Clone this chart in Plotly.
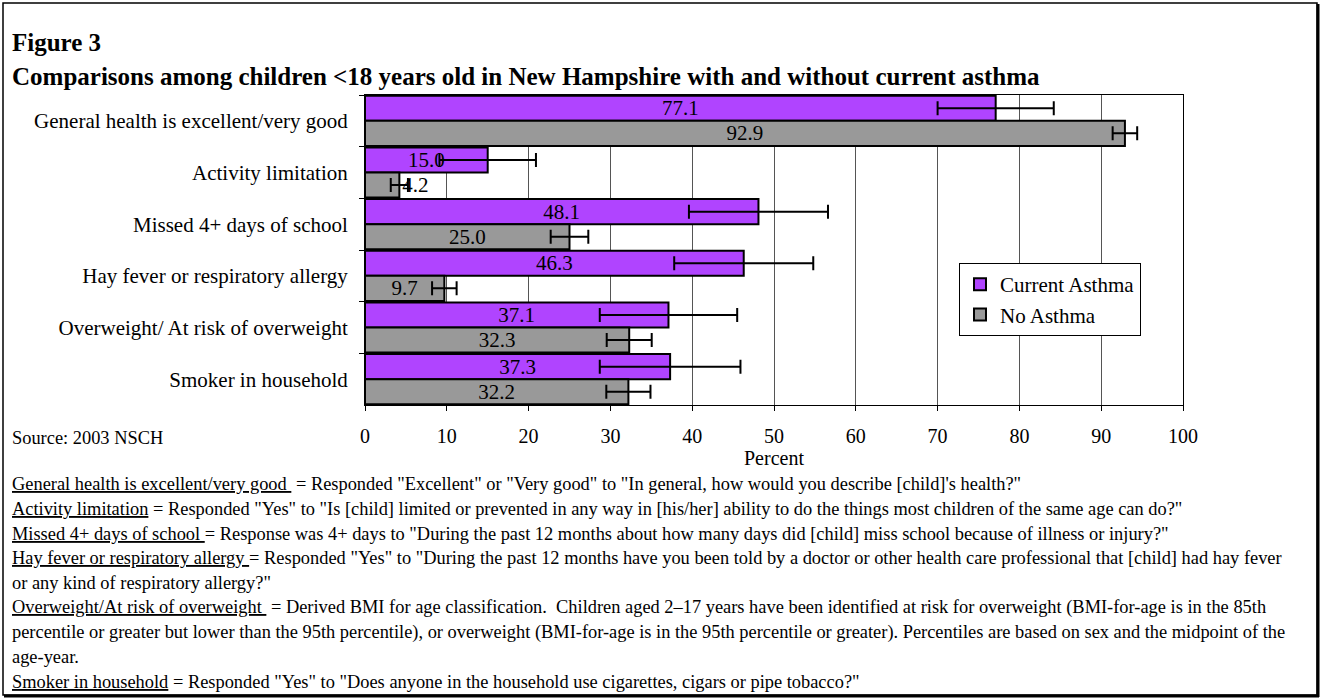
import plotly.graph_objects as go

# Survey indicators (top to bottom)
categories = [
    "General health is excellent/very good",
    "Activity limitation",
    "Missed 4+ days of school",
    "Hay fever or respiratory allergy",
    "Overweight/ At risk of overweight",
    "Smoker in household",
]
current_asthma = [77.1, 15.0, 48.1, 46.3, 37.1, 37.3]
current_asthma_err = [7.1, 5.9, 8.5, 8.5, 8.4, 8.6]
no_asthma = [92.9, 4.2, 25.0, 9.7, 32.3, 32.2]
no_asthma_err = [1.5, 1.05, 2.3, 1.5, 2.75, 2.7]
x_ticks = [0, 10, 20, 30, 40, 50, 60, 70, 80, 90, 100]

W, H = 1325, 700
L, R, T, B = 365, 1183, 95, 405
FONT = "Liberation Serif"
PURPLE = "#B044FF"
GRAY = "#999999"


def fx(px):
    return (px - L) / (R - L)


def fy(py):
    return (B - py) / (B - T)


def label_pos(values, small=5):
    return ["outside" if v < small else "inside" for v in values]


def bar_trace(name, values, errors, color):
    return go.Bar(
        name=name, y=categories, x=values, orientation="h",
        marker=dict(color=color, line=dict(color="black", width=2)),
        error_x=dict(type="data", array=errors, color="black", thickness=2, width=7),
        texttemplate="%{x:.1f}", textposition=label_pos(values),
        insidetextanchor="middle", constraintext="none",
        textfont=dict(family=FONT, size=21, color="black"),
        cliponaxis=False,
    )


fig = go.Figure()
fig.add_trace(bar_trace("Current Asthma", current_asthma, current_asthma_err, PURPLE))
fig.add_trace(bar_trace("No Asthma", no_asthma, no_asthma_err, GRAY))

fig.update_layout(
    width=W, height=H,
    margin=dict(l=L, r=W - R, t=T, b=H - B, pad=0),
    paper_bgcolor="white", plot_bgcolor="white",
    barmode="group", bargap=0.03, bargroupgap=0,
    font=dict(family=FONT, size=20, color="black"),
    showlegend=True,
    legend=dict(
        x=fx(959), y=fy(263), xanchor="left", yanchor="top",
        bordercolor="black", borderwidth=1, bgcolor="white",
        font=dict(family=FONT, size=21, color="black"),
        traceorder="normal", itemwidth=30, tracegroupgap=0,
    ),
)

fig.update_xaxes(
    range=[0, 100], tickvals=x_ticks, ticktext=[str(v) for v in x_ticks],
    showgrid=True, gridcolor="#555555", gridwidth=1,
    showline=True, linecolor="black", linewidth=1, mirror=True,
    ticks="outside", ticklen=5, tickcolor="black",
    tickfont=dict(family=FONT, size=20), ticklabelstandoff=8,
    title=dict(text="Percent", font=dict(family=FONT, size=20), standoff=2),
    zeroline=False, fixedrange=True,
)
fig.update_yaxes(
    autorange="reversed", showgrid=False,
    showline=True, linecolor="black", linewidth=1, mirror=True,
    ticks="outside", ticklen=5, tickcolor="black", tickson="boundaries",
    tickfont=dict(family=FONT, size=21), ticklabelstandoff=12,
    fixedrange=True,
)

NOTE = 18.4
LINE0, STEP = 484, 24.75
notes = [
    '<u>General health is excellent/very good </u> = Responded "Excellent" or "Very good" to "In general, how would you describe [child]\'s health?"',
    '<u>Activity limitation</u> = Responded "Yes" to "Is [child] limited or prevented in any way in [his/her] ability to do the things most children of the same age can do?"',
    '<u>Missed 4+ days of school </u>= Response was 4+ days to "During the past 12 months about how many days did [child] miss school because of illness or injury?"',
    '<u>Hay fever or respiratory allergy </u>= Responded "Yes" to "During the past 12 months have you been told by a doctor or other health care professional that [child] had hay fever',
    'or any kind of respiratory allergy?"',
    '<u>Overweight/At risk of overweight </u> = Derived BMI for age classification.  Children aged 2\u201317 years have been identified at risk for overweight (BMI-for-age is in the 85th',
    'percentile or greater but lower than the 95th percentile), or overweight (BMI-for-age is in the 95th percentile or greater). Percentiles are based on sex and the midpoint of the',
    'age-year.',
    '<u>Smoker in household</u> = Responded "Yes" to "Does anyone in the household use cigarettes, cigars or pipe tobacco?"',
]

annotations = [
    dict(text="<b>Figure 3</b>", x=10, y=42, size=25),
    dict(text="<b>Comparisons among children &lt;18 years old in New Hampshire with and without current asthma</b>",
         x=10, y=77, size=25),
    dict(text="Source: 2003 NSCH", x=10, y=438, size=NOTE),
]
for i, line in enumerate(notes):
    annotations.append(dict(text=line, x=10, y=LINE0 + STEP * i, size=NOTE))

for a in annotations:
    fig.add_annotation(
        text=a["text"], xref="paper", yref="paper", x=fx(a["x"]), y=fy(a["y"]),
        xanchor="left", yanchor="middle", showarrow=False,
        font=dict(family=FONT, size=a["size"], color="black"),
    )

# Outer frame with heavier right/bottom edges
fig.add_shape(type="rect", xref="paper", yref="paper",
              x0=fx(3), x1=fx(1317), y0=fy(3), y1=fy(695),
              line=dict(color="black", width=1.5), layer="above")
fig.add_shape(type="line", xref="paper", yref="paper",
              x0=fx(1318), x1=fx(1318), y0=fy(4), y1=fy(697),
              line=dict(color="black", width=3), layer="above")
fig.add_shape(type="line", xref="paper", yref="paper",
              x0=fx(4), x1=fx(1319), y0=fy(696), y1=fy(696),
              line=dict(color="black", width=3), layer="above")

fig.write_html("out.html")
